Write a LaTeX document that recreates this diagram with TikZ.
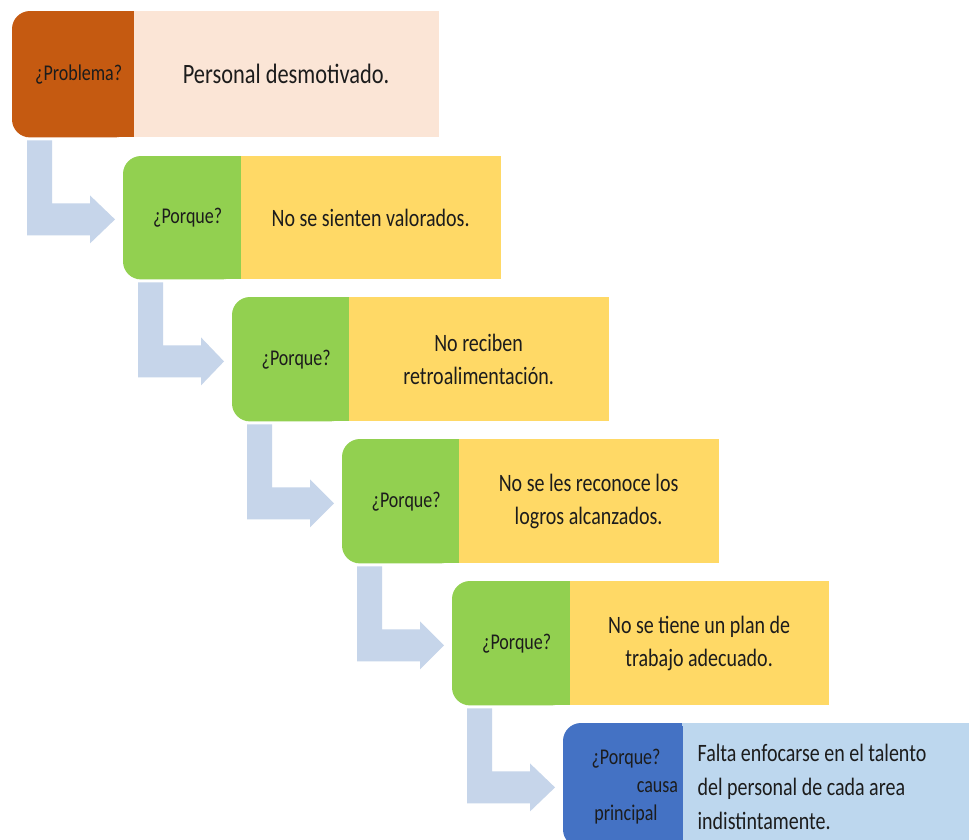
\documentclass[tikz,border=0pt]{standalone}
\usepackage{fontspec}
\setmainfont{Carlito}[FakeStretch=0.8]
\usetikzlibrary{calc}
\definecolor{orng}{HTML}{C55A11}
\definecolor{peach}{HTML}{FBE5D6}
\definecolor{grn}{HTML}{92D050}
\definecolor{ylw}{HTML}{FFD966}
\definecolor{dblue}{HTML}{4472C4}
\definecolor{lblue}{HTML}{BDD7EE}
\definecolor{arrowc}{HTML}{C6D5EA}
\definecolor{txt}{HTML}{1C1C1C}
\begin{document}
\begin{tikzpicture}[x=1pt,y=-1pt,
  lbox/.style={rectangle, draw=none, inner sep=0pt, anchor=north west},
  rbox/.style={rectangle, draw=none, inner sep=0pt, anchor=north west, align=center,
    text=txt, font=\fontsize{25}{33}\selectfont},
  ltext/.style={inner sep=0pt, text=txt, align=center, font=\fontsize{22.5}{28}\selectfont},
  bentarrow/.style={fill=arrowc}
]
\clip (0,0) rectangle (969,839);
\fill[white] (0,0) rectangle (969,839);

% left parts of the boxes
\node[lbox, minimum width=121pt, minimum height=126pt] (p0) at (12,11) {};
\node[lbox, minimum width=117pt, minimum height=123pt] (p1) at (123,156) {};
\node[lbox, minimum width=116pt, minimum height=124pt] (p2) at (232,297) {};
\node[lbox, minimum width=116pt, minimum height=124pt] (p3) at (342,439) {};
\node[lbox, minimum width=117pt, minimum height=124pt] (p4) at (452,581) {};
\node[lbox, minimum width=119pt, minimum height=124pt] (p5) at (563,723) {};

\foreach \n/\c in {p0/orng, p1/grn, p2/grn, p3/grn, p4/grn, p5/dblue} {
  \fill[\c, rounded corners=18pt] (\n.north west) rectangle (\n.south east);
  \fill[\c] (\n.north) rectangle ($(\n.south east)+(1,0)$);
}

% right parts of the boxes
\node[rbox, fill=peach, minimum width=305pt, minimum height=126pt, font=\fontsize{28}{34}\selectfont] (t0) at (p0.north east) {Personal desmotivado.};
\node[rbox, fill=ylw, minimum width=260pt, minimum height=123pt] (t1) at (p1.north east) {No se sienten valorados.};
\node[rbox, fill=ylw, minimum width=260pt, minimum height=124pt] (t2) at (p2.north east) {No reciben\\retroalimentación.};
\node[rbox, fill=ylw, minimum width=260pt, minimum height=124pt] (t3) at (p3.north east) {No se les reconoce los\\logros alcanzados.};
\node[rbox, fill=ylw, minimum width=259pt, minimum height=124pt] (t4) at (p4.north east) {No se tiene un plan de\\trabajo adecuado.};
\node[rbox, fill=lblue, align=flush left, inner xsep=15pt, text width=263pt, minimum height=124pt, font=\fontsize{25}{34}\selectfont] (t5) at ($(p5.north east)+(0,2)$) {Falta enfocarse en el talento\\del personal de cada area\\indistintamente.};
\fill[lblue] (p5.north east) rectangle ($(p5.north east)+(300,3)$);

% labels of the left parts
\node[ltext] (l0) at ($(p0.center)+(6,0)$) {¿Problema?};
\node[ltext] (l1) at ($(p1.center)+(6,0)$) {¿Porque?};
\node[ltext] (l2) at ($(p2.center)+(6,0)$) {¿Porque?};
\node[ltext] (l3) at ($(p3.center)+(6,0)$) {¿Porque?};
\node[ltext] (l4) at ($(p4.center)+(6,0)$) {¿Porque?};
\node[ltext, text width=104pt] (l5) at (626,787) {¿Porque?\\\makebox[104pt][r]{causa}\\principal};

% bent arrows
\foreach \a/\b in {p0/p1, p1/p2, p2/p3, p3/p4, p4/p5} {
  \fill[bentarrow] let \p1=(\a.south west), \p2=(\b.west) in
    (\x1+15pt,\y1-3pt) -- (\x1+40pt,\y1-3pt) -- (\x1+40pt,\y1-66pt)
    -- (\x1+78pt,\y1-66pt) -- (\x1+78pt,\y1-58pt) -- (\x2-8pt,\y1-82pt)
    -- (\x1+78pt,\y1-106pt) -- (\x1+78pt,\y1-98pt) -- (\x1+15pt,\y1-98pt) -- cycle;
}
\end{tikzpicture}
\end{document}
